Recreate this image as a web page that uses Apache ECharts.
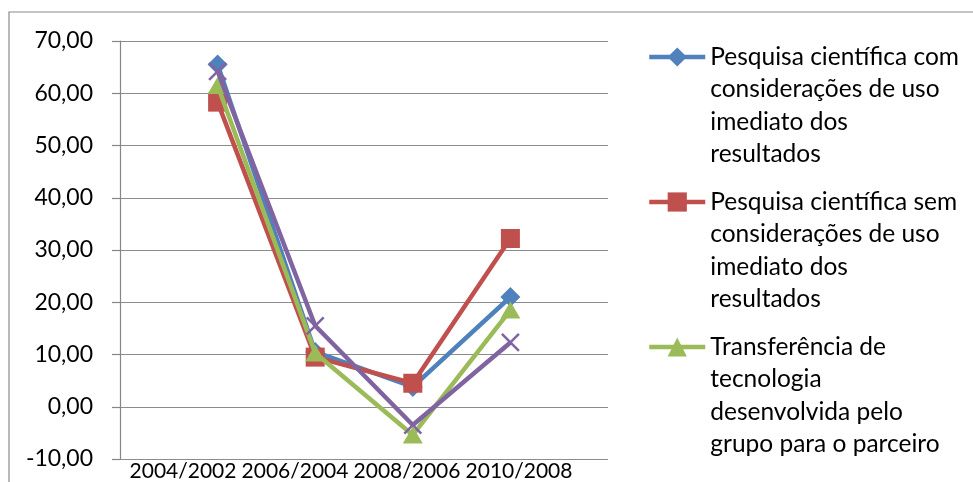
<!DOCTYPE html>
<html>
<head>
<meta charset="utf-8">
<style>
  html, body { margin: 0; padding: 0; background: #fff; }
  #chart { width: 973px; height: 482px; }
</style>
<script src="https://cdn.jsdelivr.net/npm/echarts@6/dist/echarts.min.js"></script>
</head>
<body>
<div id="chart"></div>
<script>
// Periods compared
const categories = ['2004/2002', '2006/2004', '2008/2006', '2010/2008'];

// Series names (legend text keeps the original line breaks)
const seriesNames = [
  'Pesquisa científica com\nconsiderações de uso\nimediato dos\nresultados',
  'Pesquisa científica sem\nconsiderações de uso\nimediato dos\nresultados',
  'Transferência de\ntecnologia\ndesenvolvida pelo\ngrupo para o parceiro',
  'Outros'
];

// Values per series
const comUso = [65.5, 10.5, 3.8, 21.0];
const semUso = [58.3, 9.5, 4.5, 32.2];
const transferencia = [61.5, 10.3, -5.4, 18.5];
const outros = [64.2, 15.5, -3.5, 12.3];

// Value axis ticks
const yMin = -10, yMax = 70, yStep = 10;

const FONT = 'Lato, "Open Sans", sans-serif';
const colors = ['#4F81BD', '#C0504D', '#9BBB59', '#8064A2'];
const xPath = 'path://M0,0L10,10M10,0L0,10';

const chart = echarts.init(document.getElementById('chart'), null, { renderer: 'canvas' });

const seriesData = [comUso, semUso, transferencia, outros];
const symbols = ['diamond', 'rect', 'triangle', xPath];
const symbolSizes = [20, 19, [20, 17], 17];

const series = seriesData.map((vals, i) => ({
  name: seriesNames[i],
  type: 'line',
  xAxisIndex: 0,
  yAxisIndex: 0,
  data: vals.map((v, k) => [k, v]),
  symbol: symbols[i],
  symbolSize: symbolSizes[i],
  showAllSymbol: true,
  lineStyle: { color: colors[i], width: 4.5 },
  itemStyle: i === 3
    ? { color: colors[i], borderColor: colors[i], borderWidth: 2.5 }
    : { color: colors[i], borderWidth: 0 },
  emphasis: { disabled: true },
  animation: false,
  z: 2 + i
}));

// Legend entries: blank lines on top keep the icon level with the first text line
const LH = 32.5;
const legendTops = [57, 202, 347];
const legends = legendTops.map((cy, i) => {
  const n = seriesNames[i].split('\n').length;
  return {
    data: [seriesNames[i]],
    orient: 'vertical',
    left: 647,
    top: cy - (2 * n - 1) * LH / 2,
    padding: 0,
    itemWidth: 56,
    itemHeight: 24,
    itemGap: 0,
    selectedMode: false,
    lineStyle: { width: 4.5 },
    formatter: name => '\n'.repeat(n - 1) + name,
    textStyle: {
      fontFamily: FONT,
      fontSize: 24.5,
      color: '#000',
      lineHeight: LH
    }
  };
});

chart.setOption({
  backgroundColor: '#fff',
  animation: false,
  textStyle: { fontFamily: FONT },
  graphic: [{
    type: 'rect',
    shape: { x: 9, y: 12, width: 980, height: 490 },
    style: { fill: 'none', stroke: '#8a8a8a', lineWidth: 1.2 },
    silent: true,
    z: -10
  }],
  legend: legends,
  grid: [
    { left: 120, right: 365, top: 41, bottom: 23 },
    { left: 127, width: 448, top: 41, bottom: 23 }
  ],
  xAxis: [
    { type: 'value', gridIndex: 0, min: -1, max: 4, show: false, splitLine: { show: false } },
    {
      type: 'category', gridIndex: 1, data: categories, boundaryGap: true,
      axisLine: { show: false }, axisTick: { show: false }, splitLine: { show: false },
      axisLabel: { fontFamily: FONT, fontSize: 21, color: '#000', margin: 4, interval: 0 }
    }
  ],
  yAxis: [
    {
      type: 'value', gridIndex: 0, min: yMin, max: yMax, interval: yStep,
      axisLine: { show: true, onZero: false, lineStyle: { color: '#868686', width: 1.2 } },
      axisTick: { show: true, length: 8, lineStyle: { color: '#868686', width: 1.2 } },
      splitLine: { show: true, lineStyle: { color: '#8c8c8c', width: 1.2 } },
      axisLabel: {
        fontFamily: FONT, fontSize: 23, color: '#000', margin: 27,
        formatter: v => v.toFixed(2).replace('.', ',')
      }
    },
    { type: 'value', gridIndex: 1, show: false, min: 0, max: 1 }
  ],
  series: series
});
</script>
</body>
</html>
